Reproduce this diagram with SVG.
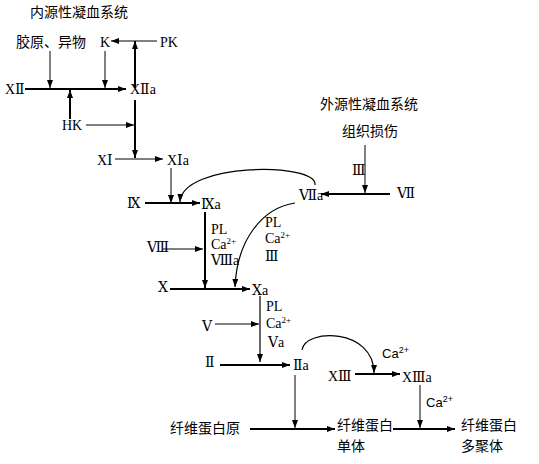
<svg xmlns="http://www.w3.org/2000/svg" width="539" height="464" viewBox="0 0 539 464">
<defs>
<marker id="ah" markerWidth="8" markerHeight="6" refX="8" refY="3" orient="auto" markerUnits="userSpaceOnUse"><path d="M0,0 L8,3 L0,6 z" fill="#000"/></marker>
<style>
.cn{font-family:"Noto Sans CJK SC","DejaVu Sans",sans-serif;font-size:14px;fill:#000}
.rm{font-family:"Liberation Serif","DejaVu Serif",serif;font-size:14px;fill:#000}
.ss{font-family:"Liberation Sans",Arial,sans-serif;font-size:13px;fill:#000}
.sup{font-size:9px}
.t{stroke:#000;stroke-width:1;fill:none;marker-end:url(#ah)}
.k{stroke:#000;stroke-width:2;fill:none;marker-end:url(#ah)}
.c{stroke:#000;stroke-width:1.2;fill:none;marker-end:url(#ah)}
</style>
</defs>
<rect width="539" height="464" fill="#fff"/>
<g id="connectors">
<line class="t" x1="157" y1="41" x2="111" y2="41"/>
<line class="k" x1="135" y1="88" x2="135" y2="41"/>
<line class="t" x1="50" y1="51" x2="50" y2="88"/>
<line class="t" x1="105" y1="51" x2="105" y2="88"/>
<line class="k" x1="25" y1="89" x2="126" y2="89"/>
<line class="k" x1="70" y1="119" x2="70" y2="90"/>
<line class="t" x1="86" y1="125" x2="134" y2="125"/>
<line class="k" x1="135" y1="100" x2="135" y2="158"/>
<line class="t" x1="115" y1="159" x2="163" y2="159"/>
<line class="t" x1="171" y1="168" x2="171" y2="203"/>
<line class="k" x1="145" y1="203" x2="200" y2="203"/>
<path class="c" d="M315,185 C318,162 182,162 180,202"/>
<path class="c" d="M295,203 C262,208 237,240 235,287"/>
<line class="k" x1="205" y1="212" x2="205" y2="288"/>
<line class="t" x1="163" y1="249" x2="203" y2="249"/>
<line class="k" x1="170" y1="289" x2="250" y2="289"/>
<line class="c" x1="260" y1="296" x2="260" y2="362"/>
<line class="t" x1="215" y1="324" x2="259" y2="324"/>
<line class="k" x1="220" y1="365" x2="290" y2="365"/>
<line class="t" x1="295" y1="375" x2="295" y2="428"/>
<path class="c" d="M302,350 C305,328 374,328 374,373"/>
<line class="k" x1="355" y1="374" x2="400" y2="374"/>
<line class="t" x1="420" y1="385" x2="420" y2="428"/>
<line class="k" x1="250" y1="429" x2="335" y2="429"/>
<line class="k" x1="393" y1="429" x2="455" y2="429"/>
<line class="t" x1="365" y1="145" x2="365" y2="193"/>
<line class="k" x1="390" y1="194" x2="321" y2="194"/>
</g>
<g id="intrinsic-title"><text class="cn" x="30" y="17">内源性凝血系统</text></g>
<g id="collagen"><text class="cn" x="16" y="47">胶原、异物</text></g>
<g id="K"><text class="rm" x="100" y="47">K</text></g>
<g id="PK"><text class="rm" x="160" y="47">PK</text></g>
<g id="XII"><text class="rm" x="5" y="94">XⅡ</text></g>
<g id="XIIa"><text class="rm" x="130" y="94">XⅡa</text></g>
<g id="HK"><text class="rm" x="62" y="130">HK</text></g>
<g id="XI"><text class="rm" x="97" y="165">XⅠ</text></g>
<g id="XIa"><text class="rm" x="167" y="165">XⅠa</text></g>
<g id="IX"><text class="rm" x="127" y="208">Ⅸ</text></g>
<g id="IXa"><text class="rm" x="201" y="209">Ⅸa</text></g>
<g id="VIIa"><text class="rm" x="299" y="200">Ⅶa</text></g>
<g id="VII"><text class="rm" x="397" y="198">Ⅶ</text></g>
<g id="extrinsic-title"><text class="cn" x="320" y="109">外源性凝血系统</text></g>
<g id="tissue"><text class="cn" x="342" y="136">组织损伤</text></g>
<g id="III-tf"><text class="rm" x="352" y="175">Ⅲ</text></g>
<g id="cof1"><text class="rm" x="211" y="234">PL</text><text class="rm" x="211" y="249">Ca<tspan class="sup" dy="-5">2+</tspan></text><text class="rm" x="211" y="265">Ⅷa</text></g>
<g id="VIII"><text class="rm" x="147" y="252">Ⅷ</text></g>
<g id="cof2"><text class="rm" x="265" y="227">PL</text><text class="rm" x="265" y="243">Ca<tspan class="sup" dy="-5">2+</tspan></text><text class="rm" x="265" y="261">Ⅲ</text></g>
<g id="X"><text class="rm" x="158" y="292">Ⅹ</text></g>
<g id="Xa"><text class="rm" x="252" y="295">Ⅹa</text></g>
<g id="cof3"><text class="rm" x="266" y="311">PL</text><text class="rm" x="266" y="328">Ca<tspan class="sup" dy="-5">2+</tspan></text><text class="rm" x="268" y="347">Ⅴa</text></g>
<g id="V"><text class="rm" x="202" y="331">Ⅴ</text></g>
<g id="II"><text class="rm" x="205" y="367">Ⅱ</text></g>
<g id="IIa"><text class="rm" x="293" y="370">Ⅱa</text></g>
<g id="ca13"><text class="ss" x="382" y="358">Ca<tspan class="sup" dy="-5">2+</tspan></text></g>
<g id="XIII"><text class="rm" x="328" y="381">XⅢ</text></g>
<g id="XIIIa"><text class="rm" x="402" y="382">XⅢa</text></g>
<g id="ca-poly"><text class="ss" x="426" y="407">Ca<tspan class="sup" dy="-5">2+</tspan></text></g>
<g id="fibrinogen"><text class="cn" x="170" y="433">纤维蛋白原</text></g>
<g id="monomer"><text class="cn" x="337" y="430">纤维蛋白</text><text class="cn" x="337" y="451">单体</text></g>
<g id="polymer"><text class="cn" x="461" y="430">纤维蛋白</text><text class="cn" x="461" y="451">多聚体</text></g>
</svg>
